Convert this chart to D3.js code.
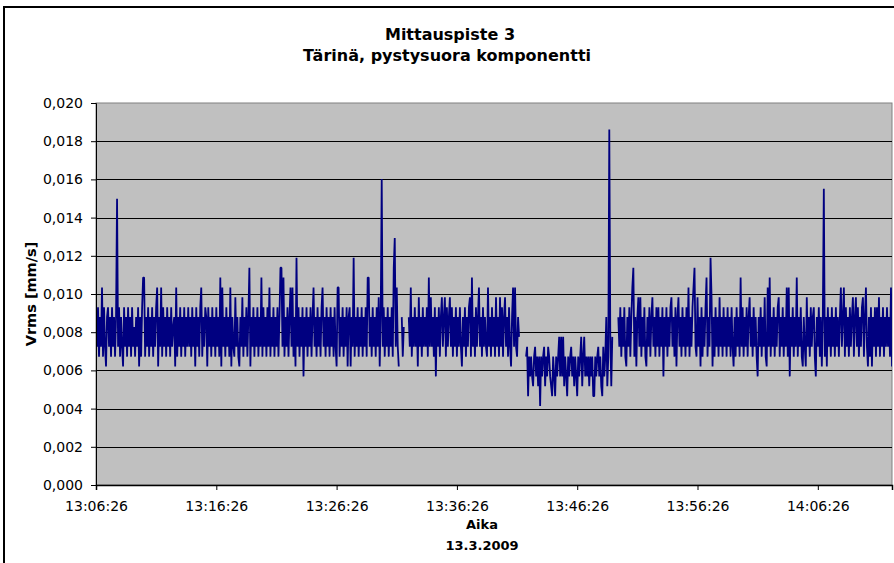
<!DOCTYPE html>
<html>
<head>
<meta charset="utf-8">
<script src="https://cdn.jsdelivr.net/npm/d3@7"></script>
<style>
  body { margin: 0; background: #fff; }
  text { font-family: "DejaVu Sans", Verdana, sans-serif; fill: #000; }
</style>
</head>
<body>
<div id="chart"></div>
<script>
// Mittauspiste 3 — Vrms, pystysuora komponentti, 13.3.2009
// Values are sensor levels; 1 level = QUANT mm/s.
const QUANT = 0.000517;
const DAY = "2009-03-13";
const STEP_S = 5;                     // seconds between samples
const SEG_STARTS = ["13:06:26", "13:32:26", "13:42:11", "13:49:51"];
const X_START = "13:06:26";
const X_END = "14:12:36";
const X_TICKS = ["13:06:26", "13:16:26", "13:26:26", "13:36:26", "13:46:26", "13:56:26", "14:06:26"];
const Y_TICKS = [0, 0.002, 0.004, 0.006, 0.008, 0.010, 0.012, 0.014, 0.016, 0.018, 0.020];

const SEG1 = [
  17,14,18,13,17,14,20,13,18,14,12,17,18,14,17,13,18,14,17,13,
  17,29,14,18,13,17,14,12,18,14,17,13,18,14,17,13,18,14,16,13,
  17,14,18,12,17,13,18,21,21,13,17,14,18,13,17,14,18,13,17,14,
  18,20,12,17,14,20,13,18,14,17,13,18,14,17,13,18,14,16,17,12,
  20,13,17,14,18,13,17,14,18,13,17,14,18,14,17,13,18,14,17,12,
  18,14,17,13,18,20,13,17,14,18,17,12,18,14,17,13,18,14,17,13,
  18,14,17,13,21,12,20,14,17,13,18,14,17,13,20,12,17,14,13,19,
  14,17,13,12,17,14,19,13,17,14,18,13,17,22,12,17,14,18,13,17,
  14,18,13,17,14,21,13,18,14,17,13,18,14,20,13,17,14,18,13,17,
  14,18,13,17,22,22,14,21,13,17,14,18,13,17,20,14,20,13,17,12,
  23,14,18,13,17,14,18,11,17,14,18,13,17,14,18,13,17,20,14,17,
  13,18,14,17,13,18,20,14,17,13,18,14,17,13,18,14,17,13,18,14,
  12,20,20,13,17,14,18,13,17,14,18,12,17,18,12,17,14,23,13,17,
  14,18,13,17,14,18,13,17,14,18,13,21,21,14,17,13,18,14,17,13,
  18,14,19,12,17,31,14,18,13,17,14,18,13,17,14,18,13,22,25,14,
  20,14,12,null,null,17,13,16
];

const SEG2 = [
  17,14,20,13,17,14,18,14,17,12,19,14,17,13,18,14,17,14,18,13,
  21,14,19,14,17,13,18,11,17,14,18,13,17,19,14,17,19,13,18,14,
  17,19,14,18,13,17,14,18,13,17,14,18,14,12,17,14,18,13,17,14,
  18,19,13,21,14,17,13,18,14,17,20,14,17,13,18,14,17,14,13,20,
  14,17,13,18,14,17,13,19,14,17,13,19,14,18,13,17,19,14,17,13,
  18,14,12,17,20,14,20,14,13,17,15
];

const SEG3 = [
  13,14,9,13,11,13,11,10,13,14,11,13,10,13,8,13,11,13,14,10,
  13,11,14,13,11,10,9,13,11,9,13,11,13,15,11,15,11,15,10,13,
  11,9,13,11,13,14,11,13,10,13,11,9,13,11,13,15,10,13,15,11,
  13,11,13,10,13,11,13,9,9,13,11,13,14,11,13,10,9,14,11,13,
  17,10,13,36,15,10,15
];

const SEG4 = [
  17,14,18,13,17,14,18,13,12,17,14,18,13,17,20,22,13,17,12,17,
  19,14,19,13,17,14,18,13,12,17,14,18,13,17,19,14,17,13,18,14,
  18,13,17,14,18,11,17,14,18,13,17,14,18,19,14,17,13,18,12,17,
  19,14,17,13,18,14,17,13,18,14,20,13,17,14,18,20,22,14,13,19,
  14,17,12,18,13,17,14,18,21,13,17,14,23,19,12,17,13,18,14,17,
  13,19,14,17,13,18,14,17,13,18,14,17,13,18,14,12,17,13,18,14,
  17,13,21,14,18,13,17,14,18,13,17,19,14,17,13,18,14,17,13,11,
  17,14,18,13,17,14,19,13,12,20,14,21,13,17,14,18,13,17,14,18,
  19,13,17,14,18,13,17,14,20,13,20,11,17,14,18,13,17,14,21,13,
  17,14,18,13,12,17,14,12,19,14,17,13,18,14,17,18,13,11,17,14,
  18,13,17,12,17,30,13,17,12,18,14,17,13,18,14,17,13,18,14,17,
  13,17,20,14,17,20,13,18,14,17,13,18,14,17,19,13,17,19,14,18,
  13,17,14,18,19,13,17,20,14,12,17,13,18,12,17,14,18,13,18,14,
  19,13,17,14,18,13,17,14,18,14,17,13,20,12,16
];

const parseTime = d3.timeParse("%Y-%m-%d %H:%M:%S");
const at = s => parseTime(`${DAY} ${s}`);

const segments = [SEG1, SEG2, SEG3, SEG4].map((vals, k) => {
  const t0 = at(SEG_STARTS[k]);
  return vals.map((v, i) => ({
    t: new Date(t0.getTime() + i * STEP_S * 1000),
    v: v == null ? null : v * QUANT
  }));
});

const W = 894, H = 563;
const plot = { left: 96, top: 103, right: 892, bottom: 485 };

const svg = d3.select("#chart").append("svg")
  .attr("width", W).attr("height", H);

// chart frame
svg.append("rect")
  .attr("x", 4).attr("y", 7).attr("width", 893).attr("height", 562)
  .attr("fill", "#fff").attr("stroke", "#000").attr("stroke-width", 2);

const x = d3.scaleTime().domain([at(X_START), at(X_END)]).range([plot.left, plot.right]);
const y = d3.scaleLinear().domain([0, 0.020]).range([plot.bottom, plot.top]);

// plot area
svg.append("rect")
  .attr("x", plot.left).attr("y", plot.top)
  .attr("width", plot.right - plot.left).attr("height", plot.bottom - plot.top)
  .attr("fill", "#C0C0C0").attr("stroke", "#808080").attr("stroke-width", 1);

// gridlines
svg.append("g").selectAll("line")
  .data(Y_TICKS.filter(d => d > 0 && d < 0.020))
  .join("line")
    .attr("x1", plot.left).attr("x2", plot.right)
    .attr("y1", d => Math.round(y(d)) + 0.5).attr("y2", d => Math.round(y(d)) + 0.5)
    .attr("stroke", "#000").attr("stroke-width", 1);

// series
svg.append("clipPath").attr("id", "clip")
  .append("rect")
    .attr("x", plot.left).attr("y", plot.top - 5)
    .attr("width", plot.right - plot.left).attr("height", plot.bottom - plot.top + 5);

const line = d3.line()
  .defined(d => d.v != null)
  .x(d => x(d.t))
  .y(d => y(d.v));

svg.append("g").attr("clip-path", "url(#clip)")
  .selectAll("path")
  .data(segments)
  .join("path")
    .attr("fill", "none")
    .attr("stroke", "#000080")
    .attr("stroke-width", 1.8)
    .attr("stroke-linejoin", "bevel")
    .attr("d", line);

// axes
const fmtY = d => d3.format(".3f")(d).replace(".", ",");

const yAxis = svg.append("g")
  .attr("transform", `translate(${plot.left},0)`)
  .call(d3.axisLeft(y).tickValues(Y_TICKS).tickSize(5).tickPadding(8).tickFormat(fmtY));
yAxis.select(".domain").attr("stroke", "#000");
yAxis.selectAll("text").style("font-size", "14px");

const xAxis = svg.append("g")
  .attr("transform", `translate(0,${plot.bottom})`)
  .call(d3.axisBottom(x).tickValues(X_TICKS.map(at)).tickSize(5).tickPadding(11)
    .tickFormat(d3.timeFormat("%H:%M:%S")));
xAxis.select(".domain").attr("stroke", "#000").attr("stroke-width", 1.5);
xAxis.selectAll("text").style("font-size", "14px");

// titles
const title = svg.append("g")
  .attr("text-anchor", "middle")
  .style("font-weight", "bold")
  .style("font-size", "16px");
title.append("text").attr("x", 450).attr("y", 40).text("Mittauspiste 3");
title.append("text").attr("x", 447).attr("y", 61).text("Tärinä, pystysuora komponentti");

svg.append("text")
  .attr("transform", `translate(35.5,${(plot.top + plot.bottom) / 2}) rotate(-90)`)
  .attr("text-anchor", "middle")
  .style("font-weight", "bold").style("font-size", "14.5px")
  .text("Vrms [mm/s]");

const xt = svg.append("g")
  .attr("text-anchor", "middle")
  .style("font-weight", "bold").style("font-size", "13px");
xt.append("text").attr("x", 482).attr("y", 529).text("Aika");
xt.append("text").attr("x", 482).attr("y", 550).text("13.3.2009");
</script>
</body>
</html>
